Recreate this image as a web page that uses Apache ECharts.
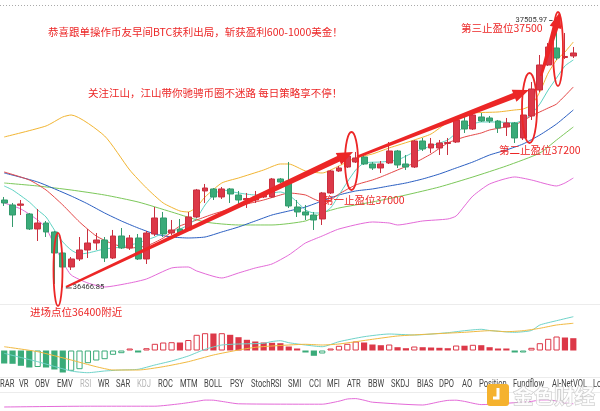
<!DOCTYPE html>
<html><head><meta charset="utf-8">
<script src="https://cdn.jsdelivr.net/npm/echarts@6/dist/echarts.min.js"></script>
<style>html,body{margin:0;padding:0;background:#fff}#c{width:600px;height:411px}</style>
</head><body><div id="c"></div>
<script>
const categories = Array.from({length: 69}, (_, i) => String(i + 1));
// [open, close, low, high]
const candles = [
[36806.7,36795.1,36783.4,36818.4],[36787.3,36748.4,36701.8,36795.1],[36786.1,36791.2,36748.4,36806.7],
[36752.3,36694.0,36690.2,36756.2],[36694.0,36717.3,36647.4,36771.7],[36717.3,36682.4,36662.9,36725.1],
[36682.4,36600.8,36480.4,36686.3],[36600.8,36546.4,36466.85,36604.7],[36546.4,36577.5,36534.7,36585.2],
[36577.5,36612.5,36569.7,36662.9],[36612.5,36639.6,36581.3,36694.0],[36639.6,36651.3,36612.5,36678.5],
[36651.3,36581.3,36565.8,36662.9],[36581.3,36666.8,36577.5,36690.2],[36666.8,36620.2,36616.3,36697.9],
[36620.2,36659.1,36612.5,36670.7],[36659.1,36577.5,36573.6,36674.6],[36577.5,36678.5,36558.1,36686.3],
[36674.6,36736.8,36666.8,36779.5],[36736.8,36674.6,36662.9,36760.1],[36678.5,36690.2,36670.7,36729.0],
[36694.0,36678.5,36674.6,36732.9],[36690.2,36740.7,36686.3,36760.1],[36740.7,36845.6,36736.8,36849.5],
[36841.7,36853.3,36795.1,36868.9],[36849.5,36818.4,36806.7,36853.3],[36818.4,36849.5,36810.6,36857.2],
[36849.5,36830.0,36795.1,36853.3],[36826.1,36806.7,36791.2,36841.7],[36806.7,36812.5,36775.6,36833.9],
[36806.7,36818.4,36795.1,36841.7],[36818.4,36830.0,36814.5,36837.8],[36818.4,36888.3,36814.5,36892.2],
[36888.3,36876.6,36872.7,36892.2],[36880.5,36783.4,36775.6,36954.3],[36779.5,36760.1,36740.7,36806.7],
[36760.1,36748.4,36729.0,36787.3],[36748.4,36729.0,36690.2,36760.1],[36732.9,36833.9,36709.6,36837.8],
[36833.9,36919.4,36830.0,36923.3],[36919.4,36931.0,36915.5,36938.8],[36934.9,36977.6,36931.0,36981.5],
[36954.3,36969.9,36950.4,36993.2],[36973.8,36946.6,36942.7,36981.5],[36946.6,36931.0,36923.3,36954.3],
[36931.0,36946.6,36911.6,36958.2],[36950.4,36997.1,36946.6,37032.0],[36997.1,36942.7,36931.0,37001.0],
[36946.6,36934.9,36923.3,36981.5],[36934.9,37035.9,36931.0,37039.8],[37035.9,37004.8,36997.1,37047.6],
[37008.7,37024.3,36989.3,37047.6],[37008.7,37028.1,36981.5,37039.8],[37026.2,37030.1,36981.5,37047.6],
[37032.0,37117.5,37028.1,37121.4],[37113.6,37082.5,37067.0,37136.9],[37082.5,37136.9,37078.7,37140.8],
[37129.2,37113.6,37109.7,37144.7],[37125.3,37113.6,37105.8,37133.1],[37113.6,37086.4,37067.0,37117.5],
[37090.3,37105.8,37055.3,37125.3],[37105.8,37047.6,37028.1,37109.7],[37047.6,37136.9,37039.8,37144.7],
[37133.0,37237.9,37117.5,37265.1],[37234.0,37331.2,37226.3,37370.0],[37331.2,37401.1,37327.3,37416.6],
[37397.2,37358.4,37350.6,37505.97],[37360.3,37364.2,37354.5,37455.5],[37366.1,37377.8,37358.4,37401.1]
];
const _ = null;
const maTeal = [36861.1,36845.5,_,36798.9,36767.9,36740.7,36690.2,36643.5,36612.5,36596.9,36600.8,_,36616.3,_,36624.1,_,36639.6,36651.3,36662.9,36678.5,_,36694.0,36709.6,36736.8,36787.3,36826.1,36845.5,_,36833.9,_,36826.1,_,36833.9,36837.8,36826.1,36798.9,36767.9,36756.2,36756.2,36775.6,36826.1,36876.6,36923.2,36950.4,_,36954.3,_,36962.1,_,36993.2,_,37016.5,_,37039.8,37067.0,37090.3,_,37109.7,_,37109.7,_,37105.8,37117.5,37140.8,37179.7,37234.0,37280.7,37327.3,37350.6];
const maRed = [36915.5,_,_,36884.4,_,36845.5,_,36787.3,_,36721.2,_,36666.8,_,36635.8,_,36620.2,_,36628.0,_,36659.1,_,36705.7,36717.3,36729.0,_,36752.3,_,36771.7,_,36791.2,_,36806.7,_,36826.1,36833.9,_,36826.1,36810.6,36798.9,36806.7,36830.0,_,36865.0,_,36884.4,36896.1,_,36923.2,_,36950.4,_,36985.4,_,37028.1,_,37051.4,_,37067.0,37078.7,_,_,37098.1,_,37133.1,_,37164.1,37179.7,_,37245.7];
const maBlue = [36911.6,_,_,_,36876.6,_,_,_,36822.2,_,36791.2,_,36756.2,_,36725.1,_,36697.9,_,36674.6,_,36662.9,_,36659.1,_,36662.9,_,36682.4,_,36701.8,_,36725.1,_,36748.4,_,36763.9,_,36779.5,_,36802.8,_,36826.1,_,36841.7,_,36849.5,_,36861.1,_,36872.7,_,36888.3,_,36907.7,_,36931.0,_,36954.3,_,36981.5,_,37001.0,_,37024.3,_,37059.2,_,37102.0,_,37156.4];
const maGreen = [36872.7,_,_,_,36861.1,_,_,_,36845.5,_,_,_,36826.1,_,_,_,36798.9,_,_,_,36760.1,_,_,_,36721.2,_,_,_,36709.6,_,_,_,36709.6,_,_,_,36725.1,_,36756.2,_,36775.6,_,_,_,36798.9,_,_,_,36826.1,_,_,_,36857.2,_,_,_,36896.1,_,_,_,36938.8,_,_,_,36989.3,_,37039.8,_,37090.3];
const bollUp = [37051.5,_,_,_,_,37094.2,_,37129.2,37136.9,_,_,_,37055.3,_,_,36923.2,_,36853.3,_,36795.1,_,36764.0,36760.1,36779.5,36818.4,_,36872.7,_,36892.2,_,_,36923.2,_,36946.6,36946.6,_,36919.4,_,36911.6,_,36938.8,_,36969.9,_,36985.4,_,37008.7,_,_,37039.8,_,37063.1,_,37109.7,37129.2,_,37144.7,_,_,37148.6,_,37156.4,37160.2,37175.8,37226.3,37300.1,37350.6,37381.7,37420.5];
const bollLow = [36795.1,_,36771.7,_,36729.0,36697.9,36631.9,36565.8,36515.3,_,36484.2,_,36468.7,_,_,36484.2,_,36499.8,_,_,36542.5,_,36546.4,36530.9,_,_,36503.7,_,36523.1,_,36542.5,_,36558.1,_,36593.0,36616.3,36639.6,_,36666.8,_,36694.0,_,_,_,36721.2,_,36717.3,36709.6,_,_,36725.1,_,_,36732.9,36744.5,36783.4,36822.2,_,36868.9,_,_,36896.1,_,36884.4,_,_,36861.1,36872.7,36892.2];
const macdHist = [-13,-13.3,-15.3,-17,-16.5,-17,-19,-22,-20.3,-18.7,-12.7,-10,-8.7,-4.3,-2.7,0.5,-0.5,2.3,6.7,8,8.3,8,10.5,15.7,17.3,17,17.3,15.7,13.3,10.7,9,8,7.7,7.3,4,0.5,-2,-5.3,-3,1.3,4.7,6.7,9,8,6,5.3,6,3.3,2.3,4,3.3,3,2.7,2.3,5,4.8,5.7,5.3,3.3,1.3,0.4,-2,-1.3,2.7,7.3,11.7,14,13,12.3];
const macdDif = [-2.8,_,_,_,-11.2,_,_,_,-20.5,_,-22.2,_,-20.5,_,-19.5,_,-18.8,_,-14.5,_,-10.5,_,-5.5,_,1.2,_,5.5,_,6.5,_,_,7.2,9,9.8,7.8,_,5.5,_,3.8,_,8.8,_,_,13.8,_,_,16.5,_,_,15.5,_,_,_,17.8,_,19.8,_,21.2,20,_,_,18.2,_,20,25.5,_,29.8,_,33.8];
const macdDea = [3.8,_,_,_,-1.2,_,_,_,-9.5,_,_,-16.2,_,-19.5,_,_,-19.5,_,_,-16.2,_,_,-11.2,_,_,-4.5,_,_,0.5,_,3.2,_,4.5,_,_,_,6.2,_,5.5,_,6.5,_,_,_,11.2,_,_,14.5,_,_,_,16.5,_,_,_,18.2,_,_,19.8,_,18.8,_,19.8,_,22.2,_,25.5,_,27.2];
const lowerPanel = [10,_,_,_,_,_,_,_,_,_,12,_,_,_,_,_,_,_,12,_,_,18,_,24,27.3,27,24,_,18,_,_,_,_,_,_,_,_,_,17,_,24.5,30,31,27,22,_,_,_,_,_,15,_,23,26.5,27,24,_,16,_,_,_,_,_,24,27.5,27.7,25,20,18];
const indicatorTabs = ['RAR','VR','OBV','EMV','RSI','WR','SAR','KDJ','ROC','MTM','BOLL','PSY','StochRSI','SMI','CCI','MFI','ATR','BBW','SKDJ','BIAS','DPO','AO','Position','Fundflow','AI-NetVOL','Lo'];
const tabX = [0,19,35,57,80,98,116,137,158,180,204,230,251,288,309,327,347,368,391,417,439,462,479,513,552,593];
const tabDim = ['RSI','KDJ'];

const RED = '#dc3848', GREEN = '#3aab79', ANN = '#ec2626';
const chart = echarts.init(document.getElementById('c'));
const G = {left: -6.63, right: 22.5};
const line = (data, color, xi, yi, w) => ({type:'line', data, xAxisIndex:xi, yAxisIndex:yi, symbol:'none', connectNulls:true, smooth:0.2, lineStyle:{color, width:w||1}, silent:true, z:3});
const macdBars = macdHist.map((v, i) => {
  const prev = i > 0 ? macdHist[i-1] : v;
  const col = v >= 0 ? RED : GREEN;
  return v > prev ? {value:v, itemStyle:{color:'#fff', borderColor:col, borderWidth:1}} : {value:v, itemStyle:{color:col, borderColor:col, borderWidth:0}};
});
chart.setOption({
  animation:false, backgroundColor:'#fff',
  grid:[Object.assign({top:5, height:298}, G), Object.assign({top:305, height:72}, G), Object.assign({top:395, height:40}, G)],
  xAxis:[0,1,2].map(g => ({type:'category', data:categories, gridIndex:g, boundaryGap:true, show:false})),
  yAxis:[{gridIndex:0, min:36406.5, max:37564.2, show:false},{gridIndex:1, min:-26.5, max:45.5, show:false},{gridIndex:2, min:0, max:40, show:false}],
  series:[
    line(bollLow, '#e46ad8', 0, 0), line(maGreen, '#7cc85a', 0, 0), line(maBlue, '#2b5fc2', 0, 0),
    line(maRed, '#e44848', 0, 0), line(bollUp, '#f2b532', 0, 0), line(maTeal, '#5dd2c2', 0, 0),
    {type:'candlestick', data:candles, xAxisIndex:0, yAxisIndex:0, barWidth:'76%', z:4,
     itemStyle:{color:RED, color0:GREEN, borderColor:'#c9303f', borderColor0:'#339a6c', borderWidth:1}},
    {type:'bar', data:macdBars, xAxisIndex:1, yAxisIndex:1, barWidth:'74%', barMinHeight:2, z:2},
    line(macdDif, '#6fd3c9', 1, 1), line(macdDea, '#f1b940', 1, 1),
    line(lowerPanel, '#e46ad8', 2, 2)
  ]
});

function arrow(x1,y1,x2,y2,w0,w1,hl,hw){
  const dx=x2-x1, dy=y2-y1, L=Math.hypot(dx,dy), ux=dx/L, uy=dy/L, nx=-uy, ny=ux;
  const bx=x2-ux*hl, by=y2-uy*hl;
  return {type:'polygon', z:100, shape:{points:[[x1+nx*w0/2,y1+ny*w0/2],[bx+nx*w1/2,by+ny*w1/2],[bx+nx*hw/2,by+ny*hw/2],[x2,y2],[bx-nx*hw/2,by-ny*hw/2],[bx-nx*w1/2,by-ny*w1/2],[x1-nx*w0/2,y1-ny*w0/2]]}, style:{fill:ANN}};
}
const ell = (cx,cy,rx,ry) => ({type:'ellipse', z:100, shape:{cx,cy,rx,ry}, style:{fill:null, stroke:ANN, lineWidth:1.8}});
const txt = (s,x,y,fs,color,extra) => Object.assign({type:'text', z:100, x, y, style:{text:s, x:0, y:0, fontSize:fs, fontFamily:'Noto Sans CJK SC', fill:color, textVerticalAlign:'middle'}}, extra||{});

const hi = chart.convertToPixel({gridIndex:0}, [66, 37505.97]);
const lo = chart.convertToPixel({gridIndex:0}, [7, 36466.85]);
const g = [
  {type:'line', z:1, shape:{x1:0,y1:5.5,x2:600,y2:5.5}, style:{stroke:'#aaa', lineWidth:1, lineDash:[1,2]}},
  {type:'line', z:1, shape:{x1:0,y1:304.5,x2:600,y2:304.5}, style:{stroke:'#ececec', lineWidth:1}},
  {type:'line', z:1, shape:{x1:0,y1:377.5,x2:600,y2:377.5}, style:{stroke:'#ececec', lineWidth:1}},
  {type:'line', z:1, shape:{x1:0,y1:392.5,x2:600,y2:392.5}, style:{stroke:'#ececec', lineWidth:1}},
  arrow(66,287,353,152,2,6,16,13),
  arrow(357,157,529,90,2.5,6,16,13),
  arrow(541,76,560,12,2.5,6,16,12),
  ell(58,269.5,4.5,36.5), ell(351.5,161,6.5,29), ell(529.5,108,7.5,35), ell(558,49,5,37),
  txt('恭喜跟单操作币友早间BTC获利出局，斩获盈利600-1000美金！',48,32.5,10.5,ANN),
  txt('关注江山，江山带你驰骋币圈不迷路 每日策略享不停！',88,93,10.5,ANN),
  txt('第三止盈位37500',461,28,10.5,ANN),
  txt('第一止盈位37000',323,200,10.5,ANN),
  txt('第二止盈位37200',499,150,10.5,ANN),
  txt('进场点位36400附近',30,312,10.5,ANN),
  {type:'text', z:100, x:hi[0]-9.5, y:hi[1], style:{text:'37505.97', fontSize:7.5, fontFamily:'Roboto', fill:'#333', textAlign:'right', textVerticalAlign:'middle'}},
  {type:'line', z:100, shape:{x1:hi[0]-7.5,y1:hi[1]+0.5,x2:hi[0]-4,y2:hi[1]+0.5}, style:{stroke:'#555', lineWidth:1}},
  {type:'text', z:100, x:lo[0]+10, y:lo[1], style:{text:'36466.85', fontSize:7.5, fontFamily:'Roboto', fill:'#333', textVerticalAlign:'middle'}},
  {type:'line', z:100, shape:{x1:lo[0]+3,y1:lo[1]+0.5,x2:lo[0]+9,y2:lo[1]+0.5}, style:{stroke:'#555', lineWidth:1}}
];
indicatorTabs.forEach((t,i) => g.push({type:'text', z:50, x:tabX[i], y:384, scaleX:0.76, style:{text:t, x:0, y:0, fontSize:10, fontFamily:'Roboto', fill: tabDim.includes(t) ? '#b5b5b5' : '#444', textVerticalAlign:'middle'}}));
// watermark
g.push({type:'rect', z:120, shape:{x:487,y:384,width:22,height:22,r:3}, style:{fill:'#f5b22e'}});
g.push({type:'polyline', z:121, shape:{points:[[498,388],[498,398],[493,398]]}, style:{stroke:'#fff', lineWidth:3, fill:null}});
g.push({type:'text', z:120, x:513, y:396, style:{text:'金色财经', x:0, y:0, fontSize:20.5, fontFamily:'Noto Sans CJK SC', fontWeight:'bold', fill:'rgba(255,255,255,0.8)', stroke:'#c4c4c4', lineWidth:1, textVerticalAlign:'middle'}});
chart.setOption({graphic: g});
</script></body></html>
